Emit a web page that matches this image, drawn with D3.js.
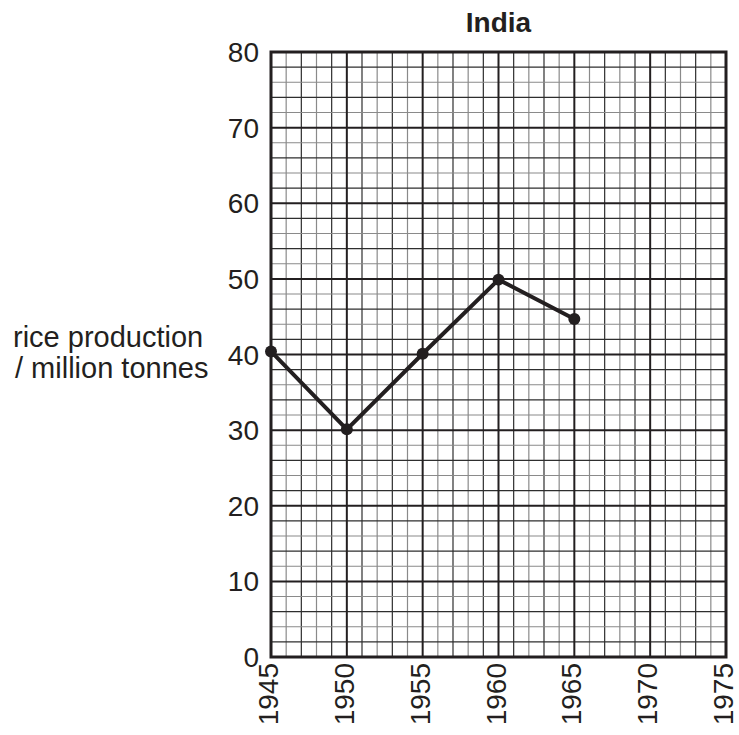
<!DOCTYPE html>
<html>
<head>
<meta charset="utf-8">
<script src="https://cdn.jsdelivr.net/npm/d3@7"></script>
<style>
  body { margin: 0; background: #fff; }
  text { font-family: "Liberation Sans", Arial, sans-serif; fill: #231f20; }
</style>
</head>
<body>
<div id="chart-area"></div>
<script>
// data
var years = [1945, 1950, 1955, 1960, 1965];
var production = [40.4, 30.1, 40.1, 49.9, 44.7];
var xTicks = [1945, 1950, 1955, 1960, 1965, 1970, 1975];
var yTicks = [0, 10, 20, 30, 40, 50, 60, 70, 80];

var margin = { left: 271, right: 13, top: 52, bottom: 78 };
var width = 739 - margin.left - margin.right;
var height = 735 - margin.top - margin.bottom;
var ink = "#231f20";

var svg = d3.select("#chart-area").append("svg")
  .attr("width", 739)
  .attr("height", 735);

var g = svg.append("g")
  .attr("transform", "translate(" + margin.left + "," + margin.top + ")");

var x = d3.scaleLinear().domain([1945, 1975]).range([0, width]);
var y = d3.scaleLinear().domain([0, 80]).range([height, 0]);

// minor grid: every year, every 2 tonnes
g.append("g").selectAll("line")
  .data(d3.range(1945, 1976, 1).filter(function(d) { return d % 5 != 0; }))
  .enter().append("line")
  .attr("x1", function(d) { return x(d); })
  .attr("x2", function(d) { return x(d); })
  .attr("y1", 0).attr("y2", height)
  .attr("stroke", function(d) { return d % 2 ? "#2e2e2e" : "#8a8a8a"; })
  .attr("stroke-width", 1.2);

g.append("g").selectAll("line")
  .data(d3.range(0, 81, 2).filter(function(d) { return d % 10 != 0; }))
  .enter().append("line")
  .attr("y1", function(d) { return y(d); })
  .attr("y2", function(d) { return y(d); })
  .attr("x1", 0).attr("x2", width)
  .attr("stroke", function(d) { return (d / 2) % 2 ? "#2e2e2e" : "#8a8a8a"; })
  .attr("stroke-width", 1.2);

// major grid
g.append("g").selectAll("line")
  .data(xTicks)
  .enter().append("line")
  .attr("x1", function(d) { return x(d); })
  .attr("x2", function(d) { return x(d); })
  .attr("y1", 0).attr("y2", height)
  .attr("stroke", ink)
  .attr("stroke-width", 2);

g.append("g").selectAll("line")
  .data(yTicks)
  .enter().append("line")
  .attr("y1", function(d) { return y(d); })
  .attr("y2", function(d) { return y(d); })
  .attr("x1", 0).attr("x2", width)
  .attr("stroke", ink)
  .attr("stroke-width", 2);

// frame
g.append("rect")
  .attr("width", width).attr("height", height)
  .attr("fill", "none")
  .attr("stroke", ink)
  .attr("stroke-width", 3);

// Y tick labels
g.append("g").selectAll("text")
  .data(yTicks)
  .enter().append("text")
  .attr("x", -12)
  .attr("y", function(d) { return y(d); })
  .attr("dy", "0.36em")
  .attr("text-anchor", "end")
  .attr("font-size", "28px")
  .text(function(d) { return d; });

// X tick labels (rotated)
g.append("g").selectAll("text")
  .data(xTicks)
  .enter().append("text")
  .attr("transform", function(d) {
    return "translate(" + x(d) + "," + (height + 6) + ") rotate(-90)";
  })
  .attr("dy", "0.25em")
  .attr("text-anchor", "end")
  .attr("font-size", "28px")
  .text(function(d) { return d; });

// title
g.append("text")
  .attr("x", width / 2)
  .attr("y", -20)
  .attr("text-anchor", "middle")
  .attr("font-size", "28px")
  .attr("font-weight", "bold")
  .text("India");

// Y label
var yl = svg.append("text")
  .attr("text-anchor", "start")
  .attr("font-size", "29px");
yl.append("tspan").attr("x", 13).attr("y", 347).text("rice production");
yl.append("tspan").attr("x", 15).attr("y", 378).text("/ million tonnes");

// line and points
var line = d3.line()
  .x(function(d, i) { return x(years[i]); })
  .y(function(d) { return y(d); });

g.append("path")
  .datum(production)
  .attr("d", line)
  .attr("fill", "none")
  .attr("stroke", ink)
  .attr("stroke-width", 4);

g.selectAll("circle")
  .data(production)
  .enter().append("circle")
  .attr("cx", function(d, i) { return x(years[i]); })
  .attr("cy", function(d) { return y(d); })
  .attr("r", 6)
  .attr("fill", ink);
</script>
</body>
</html>
